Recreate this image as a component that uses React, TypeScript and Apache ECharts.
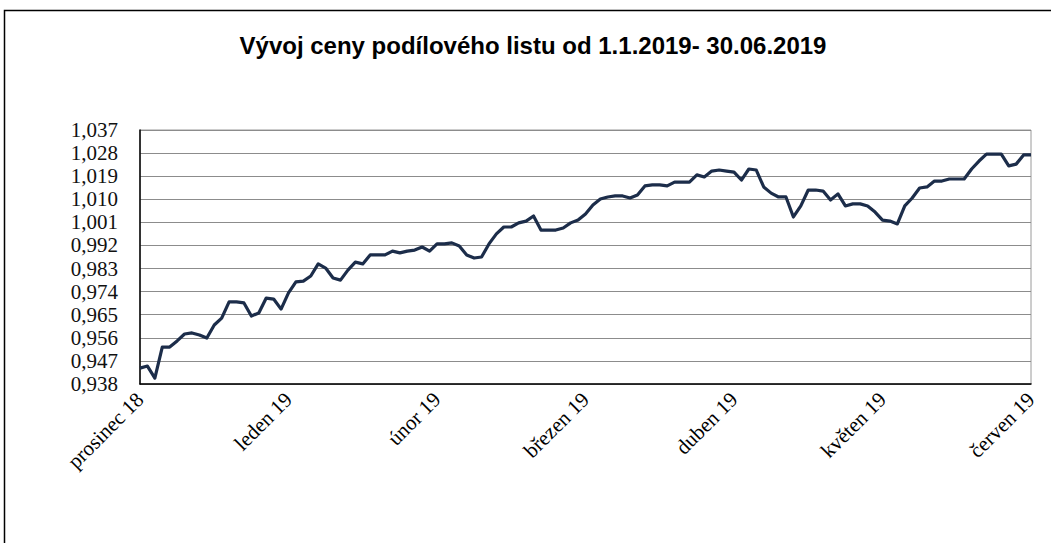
import React, { useEffect, useRef } from "react";
import * as echarts from "echarts";

const titleText = "Vývoj ceny podílového listu od 1.1.2019- 30.06.2019";
const monthLabels = ["prosinec 18", "leden 19", "únor 19", "březen 19", "duben 19", "květen 19", "červen 19"];
const pointsPerMonth = 20;
const prices = [
  0.9442, 0.9450, 0.9403, 0.9524, 0.9524, 0.9548, 0.9575, 0.9579, 0.9571, 0.9559,
  0.9610, 0.9637, 0.9700, 0.9700, 0.9696, 0.9645, 0.9657, 0.9715, 0.9711, 0.9672,
  0.9735, 0.9778, 0.9781, 0.9801, 0.9848, 0.9832, 0.9793, 0.9785, 0.9824, 0.9855,
  0.9848, 0.9883, 0.9883, 0.9883, 0.9898, 0.9891, 0.9898, 0.9902, 0.9914, 0.9898,
  0.9926, 0.9926, 0.9930, 0.9918, 0.9883, 0.9871, 0.9875, 0.9926, 0.9965, 0.9992,
  0.9992, 1.0008, 1.0015, 1.0035, 0.9980, 0.9980, 0.9980, 0.9988, 1.0008, 1.0019,
  1.0043, 1.0078, 1.0101, 1.0109, 1.0113, 1.0113, 1.0105, 1.0117, 1.0152, 1.0156,
  1.0156, 1.0152, 1.0167, 1.0167, 1.0167, 1.0195, 1.0187, 1.0210, 1.0214, 1.0210,
  1.0206, 1.0175, 1.0218, 1.0214, 1.0148, 1.0124, 1.0109, 1.0109, 1.0031, 1.0074,
  1.0136, 1.0136, 1.0132, 1.0097, 1.0121, 1.0074, 1.0082, 1.0082, 1.0074, 1.0050,
  1.0019, 1.0015, 1.0004, 1.0074, 1.0105, 1.0144, 1.0148, 1.0171, 1.0171, 1.0179,
  1.0179, 1.0179, 1.0218, 1.0249, 1.0276, 1.0276, 1.0276, 1.0230, 1.0237, 1.0273,
  1.0273,
];
const yMin = 0.938;
const yMax = 1.037;
const yStep = 0.009;

export default function App() {
  const ref = useRef<HTMLDivElement>(null);
  useEffect(() => {
    if (!ref.current) return;
    const chart = echarts.init(ref.current, undefined, { renderer: "svg" });
    const categories = prices.map((_, i) =>
      i % pointsPerMonth === 0 ? monthLabels[i / pointsPerMonth] : "p" + i
    );
    chart.setOption({
      animation: false,
      backgroundColor: "#ffffff",
      title: {
        text: titleText,
        left: 533,
        textAlign: "center",
        top: 33,
        padding: 0,
        textStyle: {
          fontFamily: "Liberation Sans",
          fontWeight: "bold",
          fontSize: 24,
          color: "#000",
        },
      },
      graphic: [
        {
          type: "rect",
          shape: { x: 4.5, y: 10.5, width: 1100, height: 600 },
          style: { fill: "none", stroke: "#000", lineWidth: 1.5 },
          silent: true,
        },
      ],
      grid: {
        left: 140,
        right: 20,
        top: 130,
        bottom: 159,
        show: true,
        borderColor: "#9a9a9a",
        borderWidth: 1,
      },
      xAxis: {
        type: "category",
        data: categories,
        boundaryGap: false,
        axisLine: { show: true, lineStyle: { color: "#000", width: 1.5 } },
        axisTick: { show: false },
        axisLabel: {
          rotate: 45,
          margin: 12,
          interval: (index: number) => index % pointsPerMonth === 0,
          formatter: (v: string) => (monthLabels.includes(v) ? v : ""),
          fontFamily: "Liberation Serif",
          fontSize: 21,
          color: "#000",
        },
        splitLine: { show: false },
      },
      yAxis: {
        type: "value",
        min: yMin,
        max: yMax,
        interval: yStep,
        axisLine: { show: true, lineStyle: { color: "#000", width: 1.5 } },
        axisTick: { show: false },
        axisLabel: {
          margin: 22,
          fontFamily: "Liberation Serif",
          fontSize: 21,
          color: "#111",
          formatter: (v: number) => v.toFixed(3).replace(".", ","),
        },
        splitLine: { show: true, lineStyle: { color: "#8c8c8c", width: 1 } },
      },
      series: [
        {
          type: "line",
          data: prices,
          symbol: "none",
          lineStyle: { color: "#1c2d4a", width: 3.2, join: "round" },
        },
      ],
    });
    return () => chart.dispose();
  }, []);
  return (
    <div
      ref={ref}
      style={{ position: "fixed", left: 0, top: 0, width: 1051, height: 543, background: "#fff" }}
    />
  );
}
